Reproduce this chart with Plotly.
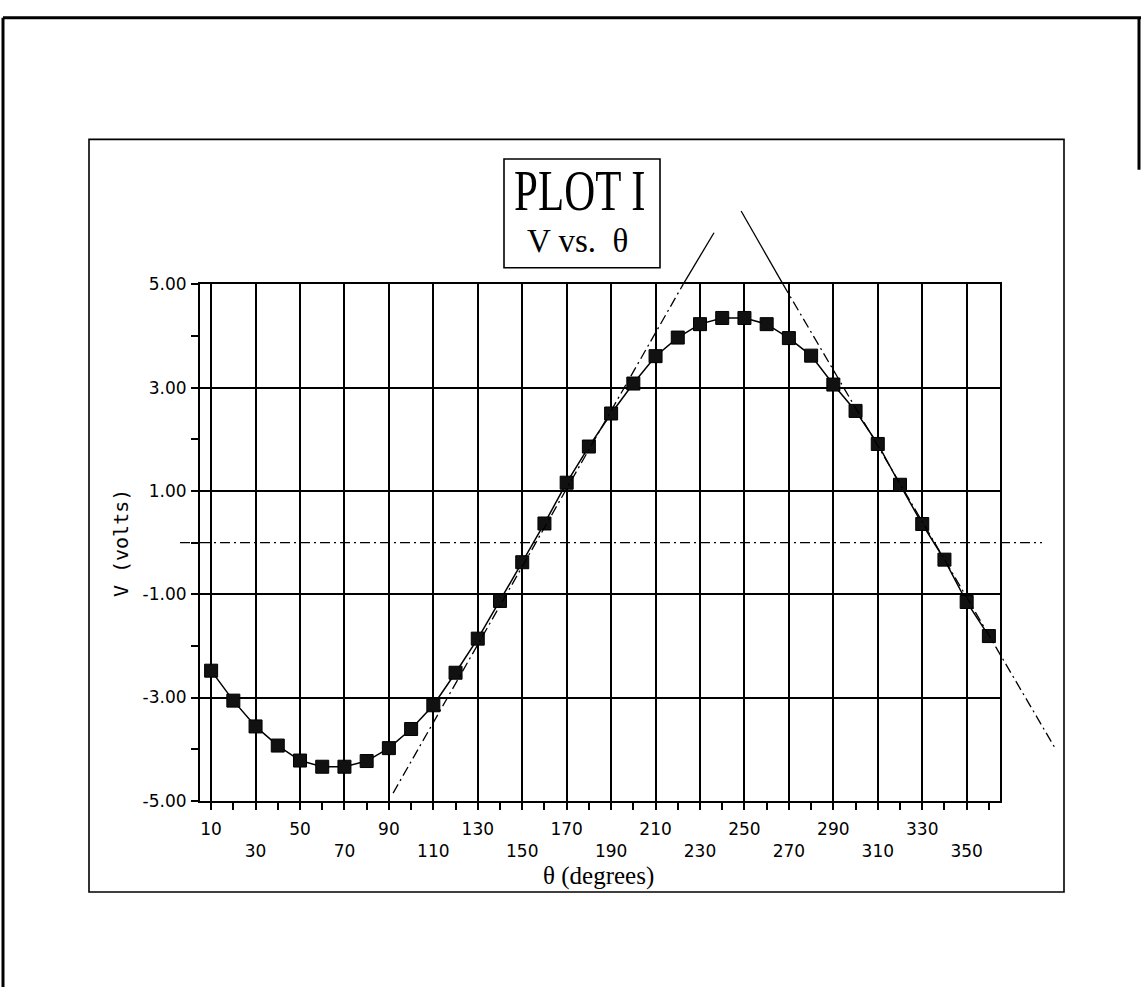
import plotly.graph_objects as go

# ---- data -------------------------------------------------------------
theta_deg = [10, 20, 30, 40, 50, 60, 70, 80, 90, 100, 110, 120,
             130, 140, 150, 160, 170, 180, 190, 200, 210, 220, 230, 240,
             250, 260, 270, 280, 290, 300, 310, 320, 330, 340, 350, 360]
volts = [-2.48, -3.06, -3.56, -3.93, -4.22, -4.34, -4.34, -4.23, -3.98, -3.61, -3.15, -2.52,
         -1.86, -1.13, -0.38, 0.37, 1.16, 1.86, 2.50, 3.08, 3.61, 3.97, 4.23, 4.35,
         4.35, 4.23, 3.96, 3.62, 3.06, 2.55, 1.91, 1.12, 0.36, -0.33, -1.15, -1.81]

# hand-drawn tangent lines (theta, V): part above the frame is solid, the rest dash-dot
rise_solid_theta = [222.4, 236.3]
rise_solid_v = [5.0, 6.0]
rise_dash_theta = [91.9, 222.4]
rise_dash_v = [-4.85, 5.0]

fall_solid_theta = [248.5, 267.4]
fall_solid_v = [6.42, 5.0]
fall_dash_theta = [267.4, 390.2]
fall_dash_v = [5.0, -4.01]

zero_theta = [-4.0, 383.9]
zero_v = [0.0, 0.0]

x_major_row1 = [10, 50, 90, 130, 170, 210, 250, 290, 330]
x_major_row2 = [30, 70, 110, 150, 190, 230, 270, 310, 350]
x_minor = [20, 40, 60, 80, 100, 120, 140, 160, 180, 200, 220, 240, 260, 280, 300, 320, 340, 360]
y_major = [5, 3, 1, -1, -3, -5]
y_major_text = ["5.00", "3.00", "1.00", "-1.00", "-3.00", "-5.00"]
y_minor = [4, 2, 0, -2, -4]

# ---- layout geometry (pixels on the page) -----------------------------
W, H = 1141, 997
X_RANGE = [5, 365]
Y_RANGE = [-5, 5]
PLOT_L, PLOT_R, PLOT_T, PLOT_B = 200, 1000, 280, 807

xdom = [PLOT_L / W, PLOT_R / W]
ydom = [1 - PLOT_B / H, 1 - PLOT_T / H]


def full_page_range(rng, dom):
    """Range of an axis spanning the whole page with the same scale as rng over dom."""
    per = (rng[1] - rng[0]) / (dom[1] - dom[0])
    return [rng[0] - dom[0] * per, rng[1] + (1 - dom[1]) * per]


x2_range = full_page_range(X_RANGE, xdom)
y2_range = full_page_range(Y_RANGE, ydom)

x_tickvals = sorted(x_major_row1 + x_major_row2)
x_ticktext = [str(v) if v in x_major_row1 else "<br>" + str(v) for v in x_tickvals]

TICK_FONT = dict(family="DejaVu Sans", size=17, color="black")
DASHDOT = "10px,4px,2px,4px"

fig = go.Figure()

fig.add_trace(go.Scatter(
    x=theta_deg, y=volts, mode="lines+markers",
    line=dict(color="black", width=1.5),
    marker=dict(symbol="square", size=13, color="#111111",
                line=dict(color="black", width=1)),
    xaxis="x", yaxis="y", showlegend=False, hoverinfo="skip",
))

for tx, ty, dash in [
    (zero_theta, zero_v, DASHDOT),
    (rise_dash_theta, rise_dash_v, DASHDOT),
    (rise_solid_theta, rise_solid_v, "solid"),
    (fall_dash_theta, fall_dash_v, DASHDOT),
    (fall_solid_theta, fall_solid_v, "solid"),
]:
    fig.add_trace(go.Scatter(
        x=tx, y=ty, mode="lines",
        line=dict(color="black", width=1.3, dash=dash),
        xaxis="x2", yaxis="y2", showlegend=False, hoverinfo="skip",
    ))

fig.update_layout(
    width=W, height=H,
    margin=dict(l=0, r=0, t=0, b=0),
    paper_bgcolor="white",
    plot_bgcolor="rgba(0,0,0,0)",
    xaxis=dict(
        domain=xdom, range=X_RANGE, anchor="y",
        tickmode="array", tickvals=x_tickvals, ticktext=x_ticktext,
        ticks="outside", ticklen=7, tickwidth=1.5, tickcolor="black",
        tickfont=TICK_FONT, ticklabelstandoff=5,
        showgrid=True, gridcolor="black", gridwidth=1.6,
        minor=dict(tickvals=x_minor, ticks="outside", ticklen=7, tickwidth=1.5,
                   tickcolor="black", showgrid=False),
        showline=True, linecolor="black", linewidth=2, mirror=True,
        zeroline=False,
    ),
    yaxis=dict(
        domain=ydom, range=Y_RANGE, anchor="x",
        tickmode="array", tickvals=y_major, ticktext=y_major_text,
        ticks="outside", ticklen=7, tickwidth=1.5, tickcolor="black",
        tickfont=TICK_FONT, ticklabelstandoff=1,
        showgrid=True, gridcolor="black", gridwidth=1.6,
        minor=dict(tickvals=y_minor, ticks="outside", ticklen=7, tickwidth=1.5,
                   tickcolor="black", showgrid=False),
        showline=True, linecolor="black", linewidth=2, mirror=True,
        zeroline=False,
    ),
    xaxis2=dict(domain=[0, 1], range=x2_range, anchor="y2", visible=False,
                fixedrange=True),
    yaxis2=dict(domain=[0, 1], range=y2_range, anchor="x2", visible=False,
                fixedrange=True),
)


def px(x, y):
    return x / W, 1 - y / H


shapes = []
# outer page border (top, left, short stub on the right)
for (x0, y0, x1, y1, w) in [(3, 8, 1141, 8, 3), (3, 8, 3, 997, 3), (1139, 8, 1139, 163, 3)]:
    a0, b0 = px(x0, y0)
    a1, b1 = px(x1, y1)
    shapes.append(dict(type="line", xref="paper", yref="paper", x0=a0, y0=b0, x1=a1, y1=b1,
                       line=dict(color="black", width=w)))
# inner frame around the chart
a0, b0 = px(89, 132)
a1, b1 = px(1064, 900)
shapes.append(dict(type="rect", xref="paper", yref="paper", x0=a0, y0=b0, x1=a1, y1=b1,
                   line=dict(color="black", width=1.6)))
# title box
a0, b0 = px(504, 152)
a1, b1 = px(660, 263)
shapes.append(dict(type="rect", xref="paper", yref="paper", x0=a0, y0=b0, x1=a1, y1=b1,
                   line=dict(color="black", width=1.6), fillcolor="white"))
fig.update_layout(shapes=shapes)

annotations = []
ax, ay = px(580, 184)
annotations.append(dict(text="PLOT I", x=ax, y=ay, xref="paper", yref="paper",
                        xanchor="center", yanchor="middle", showarrow=False,
                        font=dict(family="Liberation Serif", size=58, color="black")))
ax, ay = px(577, 236)
annotations.append(dict(text="V vs.  θ", x=ax, y=ay, xref="paper", yref="paper",
                        xanchor="center", yanchor="middle", showarrow=False,
                        font=dict(family="Liberation Serif", size=33, color="black")))
ax, ay = px(598, 884)
annotations.append(dict(text="θ (degrees)", x=ax, y=ay, xref="paper", yref="paper",
                        xanchor="center", yanchor="middle", showarrow=False,
                        font=dict(family="Liberation Serif", size=25, color="black")))
ax, ay = px(121, 544)
annotations.append(dict(text="V (volts)", x=ax, y=ay, xref="paper", yref="paper",
                        xanchor="center", yanchor="middle", showarrow=False, textangle=-90,
                        font=dict(family="DejaVu Sans Mono", size=20, color="black")))
fig.update_layout(annotations=annotations)

# narrow the big plotter-style heading
post = """
var gd = document.getElementById('{plot_id}');
gd.querySelectorAll('text.annotation-text').forEach(function (t) {
  if (t.textContent === 'PLOT I') {
    t.style.transformBox = 'fill-box';
    t.style.transformOrigin = 'center';
    t.style.transform = 'scaleX(0.74)';
  }
});
"""

fig.write_html("out.html", post_script=post)
